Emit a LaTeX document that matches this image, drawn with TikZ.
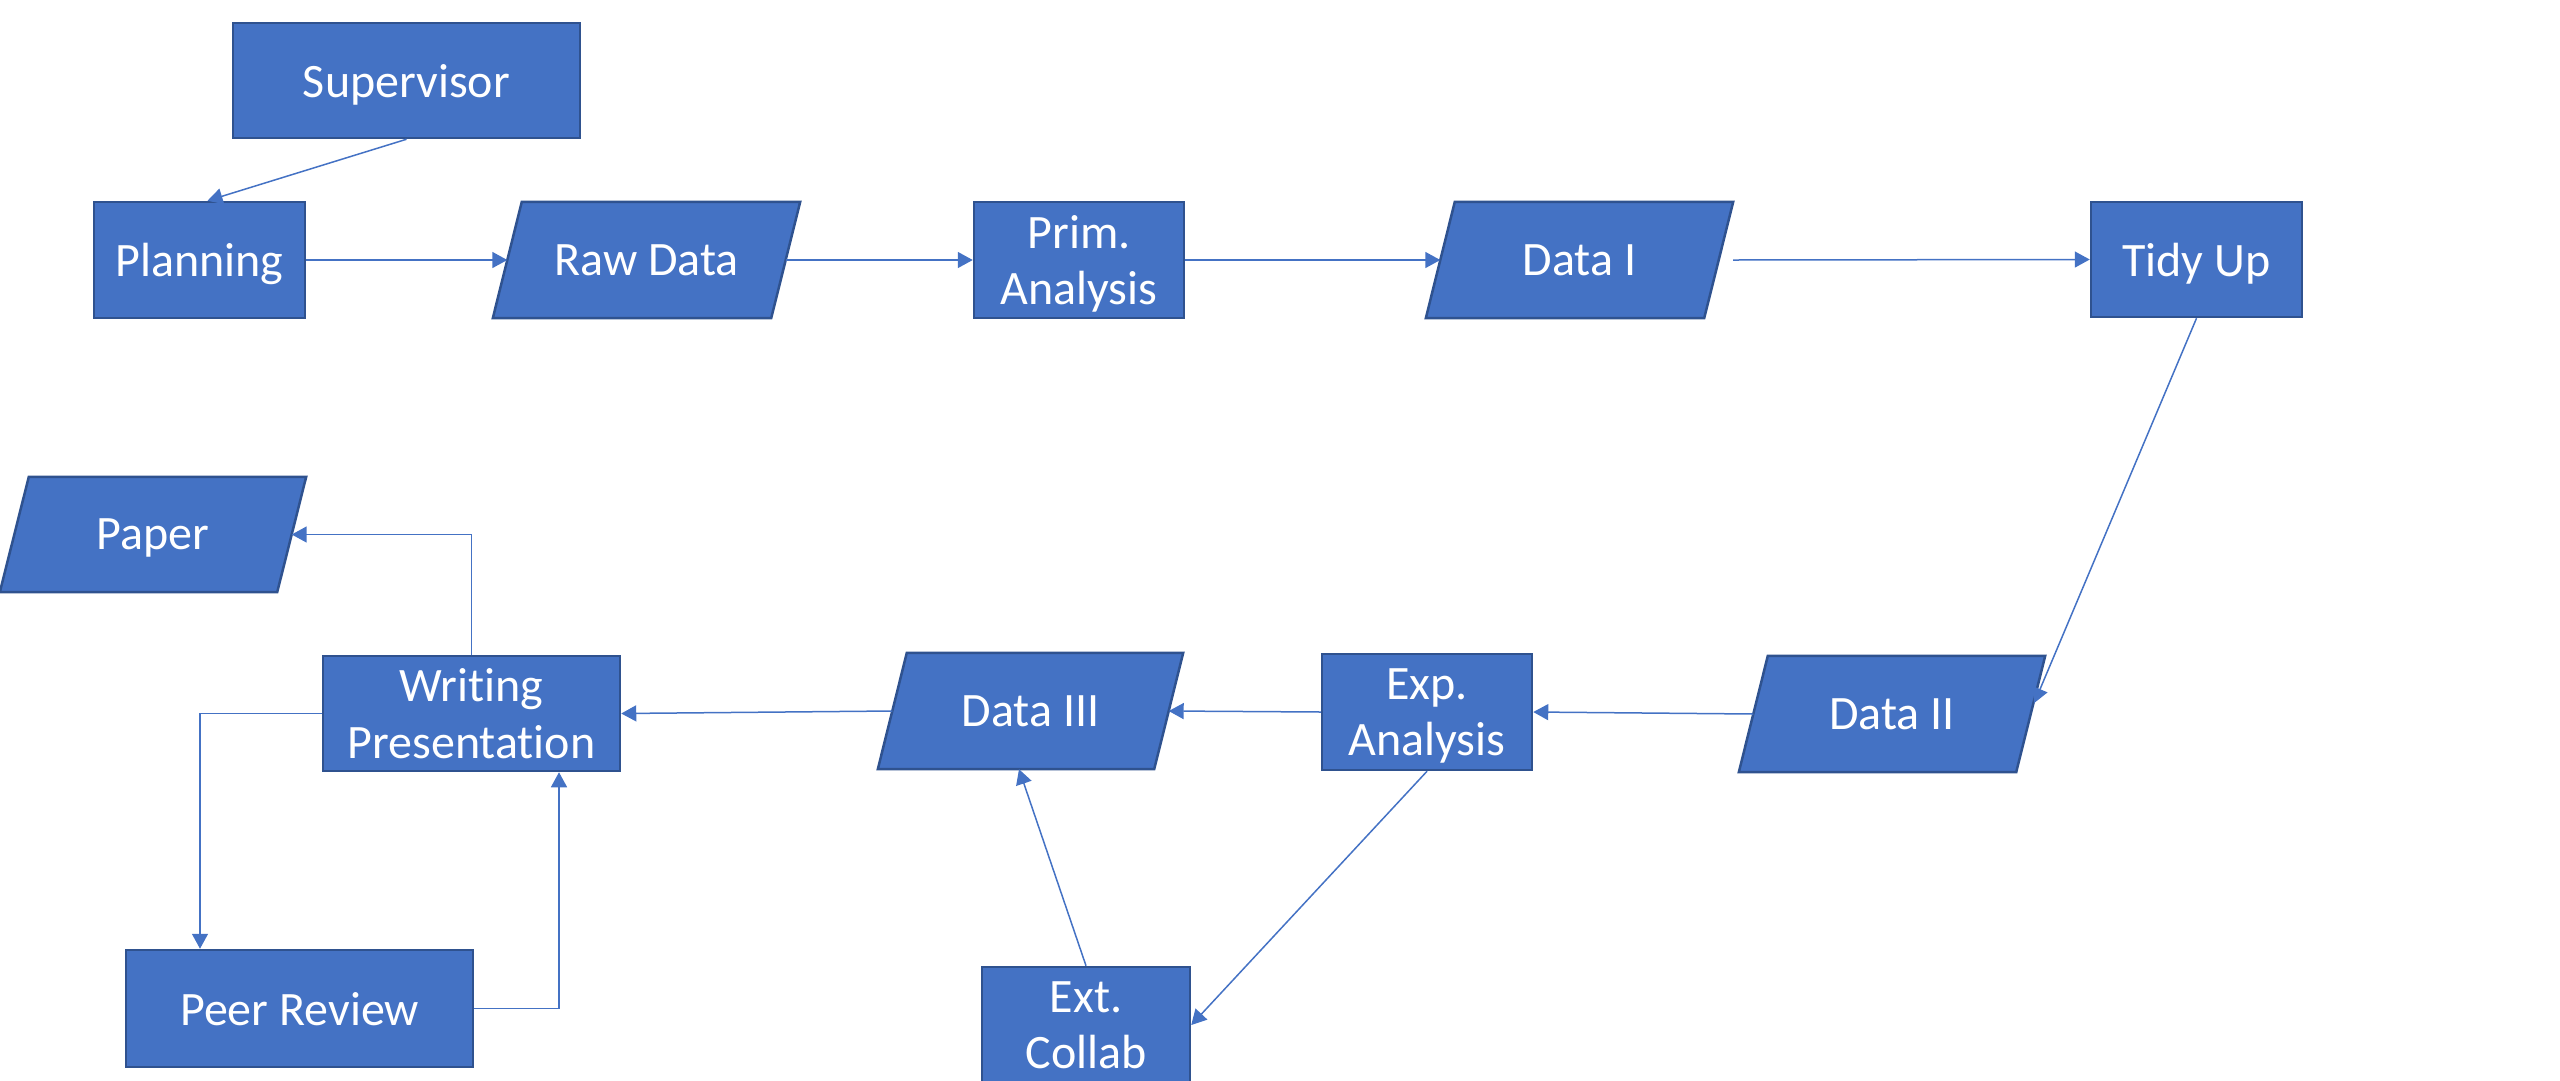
\documentclass[tikz,border=0pt]{standalone}
\usepackage{fontspec}
\setmainfont{Carlito}[Ligatures=NoCommon]
\usetikzlibrary{arrows.meta,backgrounds}
\definecolor{boxfill}{HTML}{4472C4}
\definecolor{boxline}{HTML}{2F528F}
\definecolor{arrowcol}{HTML}{4472C4}
\tikzset{
  procbox/.style={rectangle, fill=boxfill, draw=boxline, line width=2.5pt,
    text=white, align=center, inner sep=0pt, text depth=0pt,
    font=\fontsize{48}{56.5}\selectfont},
  databox/.style={rectangle, inner sep=0pt, text=white, align=center,
    text depth=0pt, font=\fontsize{48}{56.5}\selectfont},
  conn/.style={draw=arrowcol, line width=1.5pt,
    -{Triangle[length=15pt,width=16pt]}},
}
\newcommand{\mydatashape}[1]{%
  \fill[boxfill, draw=boxline, line width=2.5pt]
    ([xshift=29pt]#1.north west) -- (#1.north east)
    -- ([xshift=-29pt]#1.south east) -- (#1.south west) -- cycle;}
\begin{document}
\begin{tikzpicture}[x=1pt,y=-1pt]
\useasboundingbox (0,0) rectangle (2560,1080);
% process boxes
\node[procbox, minimum width=347pt, minimum height=115pt] (sup) at (406.5,80.5) {Supervisor};
\node[procbox, minimum width=211pt, minimum height=116pt] (plan) at (199.5,260) {Planning};
\node[procbox, minimum width=210pt, minimum height=116pt] (prim) at (1079,260) {Prim.\\Analysis};
\node[procbox, minimum width=211pt, minimum height=115pt] (tidy) at (2196.5,259.5) {Tidy Up};
\node[procbox, minimum width=297pt, minimum height=115pt] (write) at (471.5,713.5) {Writing\\Presentation};
\node[procbox, minimum width=210pt, minimum height=116pt] (exp) at (1427,712) {Exp.\\Analysis};
\node[procbox, minimum width=347pt, minimum height=117pt] (peer) at (299.5,1008.5) {Peer Review};
\node[procbox, minimum width=208pt, minimum height=116pt] (ext) at (1086,1025) {Ext.\\Collab};
% data boxes (parallelograms)
\node[databox, minimum width=307pt, minimum height=116pt] (raw) at (646.5,260) {Raw Data};
\node[databox, minimum width=307pt, minimum height=116pt] (d1) at (1579.5,260) {Data I};
\node[databox, minimum width=306pt, minimum height=115pt] (paper) at (153,534.5) {Paper};
\node[databox, minimum width=305pt, minimum height=116pt] (d3) at (1030.5,711) {Data III};
\node[databox, minimum width=306pt, minimum height=116pt] (d2) at (1892,714) {Data II};
\begin{scope}[on background layer]
\mydatashape{raw}
\mydatashape{d1}
\mydatashape{paper}
\mydatashape{d3}
\mydatashape{d2}
\end{scope}
% connectors
\draw[conn] (sup.south) -- ([xshift=8pt]plan.north);
\draw[conn] (plan.east) -- ([xshift=14.5pt]raw.west);
\draw[conn] ([xshift=-14.5pt]raw.east) -- (prim.west);
\draw[conn] (prim.east) -- ([xshift=14.5pt]d1.west);
\draw[conn] (d1.east) -- (tidy.west);
\draw[conn] (tidy.south) -- ([xshift=-11pt,yshift=11pt]d2.east);
\draw[conn] ([xshift=14.5pt]d2.west) -- (exp.east);
\draw[conn] (exp.west) -- ([xshift=-14.5pt]d3.east);
\draw[conn] ([xshift=14.5pt]d3.west) -- (write.east);
\draw[conn] (exp.south) -- (ext.east);
\draw[conn] (ext.north) -- ([xshift=-11.5pt]d3.south);
\draw[conn] (write.west) -| ([xshift=-99.5pt]peer.north);
\draw[conn] (peer.east) -| ([xshift=87.5pt]write.south);
\draw[conn] (write.north) |- ([xshift=-14.5pt]paper.east);
\end{tikzpicture}
\end{document}
